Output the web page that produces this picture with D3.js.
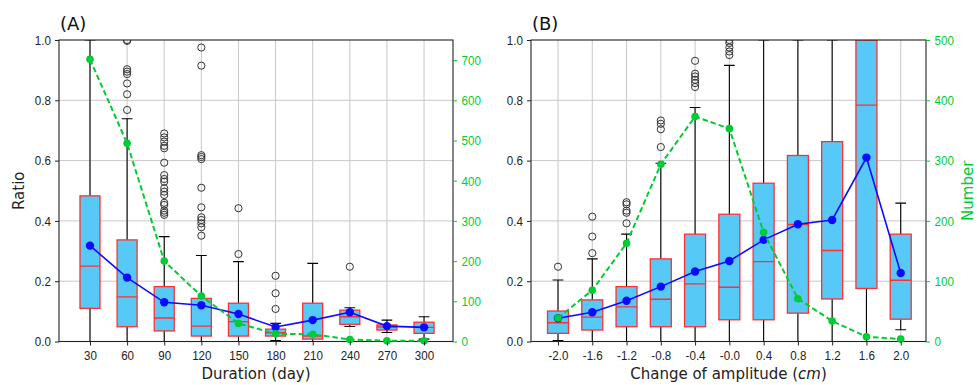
<!DOCTYPE html>
<html>
<head>
<meta charset="utf-8">
<script src="https://cdn.jsdelivr.net/npm/d3@7"></script>
<style>
  body { margin: 0; background: #fff; }
  svg { display: block; font-family: "DejaVu Sans", sans-serif; }
</style>
</head>
<body>
<div id="chart"></div>
<script>
// ---- panel A : duration ----
const durLabels = ['30', '60', '90', '120', '150', '180', '210', '240', '270', '300'];
const durQ1 = [0.11, 0.049, 0.035, 0.018, 0.018, 0.018, 0.008, 0.057, 0.038, 0.027];
const durMed = [0.25, 0.148, 0.078, 0.051, 0.066, 0.029, 0.018, 0.082, 0.048, 0.047];
const durQ3 = [0.483, 0.337, 0.182, 0.143, 0.127, 0.041, 0.127, 0.104, 0.055, 0.064];
const durLo = [0, 0, 0, 0, 0, 0.003, 0, 0.05, 0.03, 0.008];
const durHi = [1.0, 0.739, 0.348, 0.285, 0.265, 0.06, 0.259, 0.112, 0.071, 0.082];
const durMean = [0.318, 0.212, 0.13, 0.12, 0.091, 0.048, 0.071, 0.097, 0.051, 0.047];
const durCount = [702, 493, 200, 113, 45, 19, 18, 5, 2, 2];
const durOutliers = [
  [],
  [1.0, 0.997, 0.903, 0.895, 0.887, 0.856, 0.82, 0.768],
  [0.69, 0.677, 0.663, 0.649, 0.641, 0.593, 0.552, 0.539, 0.53, 0.508, 0.497, 0.486, 0.46, 0.453, 0.434, 0.427, 0.42],
  [0.975, 0.915, 0.618, 0.612, 0.605, 0.51, 0.445, 0.412, 0.403, 0.392, 0.379, 0.351],
  [0.442, 0.29],
  [0.218, 0.16, 0.108],
  [],
  [0.248],
  [],
  []
];

// ---- panel B : change of amplitude ----
const ampLabels = ['-2.0', '-1.6', '-1.2', '-0.8', '-0.4', '-0.0', '0.4', '0.8', '1.2', '1.6', '2.0'];
const ampQ1 = [0.027, 0.038, 0.049, 0.049, 0.049, 0.072, 0.072, 0.094, 0.141, 0.176, 0.074];
const ampMed = [0.062, 0.081, 0.115, 0.14, 0.191, 0.18, 0.265, 0.388, 0.302, 0.784, 0.203];
const ampQ3 = [0.101, 0.138, 0.182, 0.274, 0.356, 0.422, 0.525, 0.617, 0.663, 1.0, 0.356];
const ampLo = [0.003, 0, 0, 0, 0, 0, 0, 0, 0, 0, 0.039];
const ampHi = [0.204, 0.274, 0.356, 0.591, 0.776, 0.916, 1.0, 1.0, 1.0, 1.0, 0.459];
const ampMean = [0.077, 0.097, 0.135, 0.182, 0.232, 0.267, 0.337, 0.389, 0.403, 0.61, 0.227];
const ampCount = [39, 85, 163, 294, 373, 353, 181, 71, 34, 8, 4];
const ampOutliers = [
  [0.248],
  [0.414, 0.348, 0.293],
  [0.462, 0.455, 0.434, 0.427, 0.392],
  [0.733, 0.722, 0.704, 0.645],
  [0.931, 0.888, 0.879, 0.868, 0.857, 0.844],
  [1.0, 0.99, 0.975, 0.962, 0.95],
  [], [], [], [], []
];

const ratioTicks = [0, 0.2, 0.4, 0.6, 0.8, 1.0];
const durCountTicks = [0, 100, 200, 300, 400, 500, 600, 700];
const ampCountTicks = [0, 100, 200, 300, 400, 500];

const W = 977, H = 385;
const BOX_FILL = '#56c9f6', BOX_EDGE = '#ff3030', MEAN_C = '#0a0aff', GREEN = '#00cc33';
const TICK_FS = 13.5, SQUEEZE = 0.86;

const svg = d3.select('#chart').append('svg')
  .attr('width', W)
  .attr('height', H);

function drawPanel(opt) {
  const left = opt.left, right = opt.right, top = 40, bottom = 341.5;
  const n = opt.labels.length;
  const x = d3.scaleLinear().domain(opt.xDomain).range([left, right]);
  const y = d3.scaleLinear().domain([0, 1]).range([bottom, top]);
  const y2 = d3.scaleLinear().domain([0, opt.countMax]).range([bottom, top]);
  const idx = d3.range(n);

  const g = svg.append('g');
  const clipId = 'clip_' + opt.name;
  g.append('clipPath').attr('id', clipId)
    .append('rect')
    .attr('x', left).attr('y', top)
    .attr('width', right - left).attr('height', bottom - top);

  // grid
  const grid = g.append('g').attr('stroke', '#c9c9c9').attr('stroke-width', 1);
  grid.selectAll('.vg').data(idx).enter().append('line')
    .attr('x1', d => x(d)).attr('x2', d => x(d))
    .attr('y1', top).attr('y2', bottom);
  grid.selectAll('.hg').data(ratioTicks.slice(1, -1)).enter().append('line')
    .attr('x1', left).attr('x2', right)
    .attr('y1', d => y(d)).attr('y2', d => y(d));

  const plot = g.append('g').attr('clip-path', `url(#${clipId})`);

  // boxes
  const bw = opt.boxWidth, cw = 10.7;
  const boxes = plot.selectAll('.box').data(idx).enter().append('g').attr('class', 'box');
  boxes.append('line')
    .attr('x1', d => x(d)).attr('x2', d => x(d))
    .attr('y1', d => y(opt.q3[d])).attr('y2', d => y(opt.hi[d]))
    .attr('stroke', '#000').attr('stroke-width', 1.1);
  boxes.append('line')
    .attr('x1', d => x(d)).attr('x2', d => x(d))
    .attr('y1', d => y(opt.q1[d])).attr('y2', d => y(opt.lo[d]))
    .attr('stroke', '#000').attr('stroke-width', 1.1);
  boxes.append('line')
    .attr('x1', d => x(d) - cw / 2).attr('x2', d => x(d) + cw / 2)
    .attr('y1', d => y(opt.hi[d])).attr('y2', d => y(opt.hi[d]))
    .attr('stroke', '#000').attr('stroke-width', 1.1);
  boxes.append('line')
    .attr('x1', d => x(d) - cw / 2).attr('x2', d => x(d) + cw / 2)
    .attr('y1', d => y(opt.lo[d])).attr('y2', d => y(opt.lo[d]))
    .attr('stroke', '#000').attr('stroke-width', 1.1);
  boxes.append('rect')
    .attr('x', d => x(d) - bw / 2).attr('width', bw)
    .attr('y', d => y(opt.q3[d]))
    .attr('height', d => y(opt.q1[d]) - y(opt.q3[d]))
    .attr('fill', BOX_FILL).attr('stroke', BOX_EDGE).attr('stroke-width', 1.3);
  boxes.append('line')
    .attr('x1', d => x(d) - bw / 2).attr('x2', d => x(d) + bw / 2)
    .attr('y1', d => y(opt.med[d])).attr('y2', d => y(opt.med[d]))
    .attr('stroke', BOX_EDGE).attr('stroke-width', 1.4);

  // outliers
  const fl = [];
  opt.outliers.forEach((arr, i) => arr.forEach(v => fl.push({ i, v })));
  plot.selectAll('.flier').data(fl).enter().append('circle')
    .attr('cx', d => x(d.i)).attr('cy', d => y(d.v)).attr('r', 3.6)
    .attr('fill', 'none').attr('stroke', '#333').attr('stroke-width', 1);

  // mean line
  const meanLine = d3.line().x(d => x(d)).y(d => y(opt.mean[d]));
  plot.append('path').datum(idx)
    .attr('d', meanLine).attr('fill', 'none')
    .attr('stroke', MEAN_C).attr('stroke-width', 1.6);
  plot.selectAll('.mdot').data(idx).enter().append('circle')
    .attr('cx', d => x(d)).attr('cy', d => y(opt.mean[d])).attr('r', 4.2)
    .attr('fill', MEAN_C);

  // spines
  g.append('rect')
    .attr('x', left).attr('y', top)
    .attr('width', right - left).attr('height', bottom - top)
    .attr('fill', 'none').attr('stroke', '#222').attr('stroke-width', 1.1);

  // count line (twin axis)
  const countLine = d3.line().x(d => x(d)).y(d => y2(opt.count[d]));
  g.append('path').datum(idx)
    .attr('d', countLine).attr('fill', 'none')
    .attr('stroke', GREEN).attr('stroke-width', 2)
    .attr('stroke-dasharray', '5.5,3');
  g.selectAll('.cdot').data(idx).enter().append('circle')
    .attr('cx', d => x(d)).attr('cy', d => y2(opt.count[d])).attr('r', 3.8)
    .attr('fill', GREEN);

  // axes
  const xAxis = d3.axisBottom(x).tickValues(idx)
    .tickFormat(d => opt.labels[d]).tickSize(4).tickPadding(5);
  const ax = g.append('g').attr('transform', `translate(0,${bottom})`).call(xAxis);
  ax.select('.domain').remove();
  ax.selectAll('line').attr('stroke', '#222');
  ax.selectAll('text').attr('fill', '#222').style('font-size', TICK_FS + 'px')
    .attr('transform', `scale(${SQUEEZE},1)`);

  const yAxis = d3.axisLeft(y).tickValues(ratioTicks)
    .tickFormat(d3.format('.1f')).tickSize(4).tickPadding(4);
  const ay = g.append('g').attr('transform', `translate(${left},0)`).call(yAxis);
  ay.select('.domain').remove();
  ay.selectAll('line').attr('stroke', '#222');
  ay.selectAll('text').attr('fill', '#222').style('font-size', TICK_FS + 'px')
    .attr('x', -8 / SQUEEZE).attr('transform', `scale(${SQUEEZE},1)`);

  const y2Axis = d3.axisRight(y2).tickValues(opt.countTicks)
    .tickSize(4).tickPadding(4.5);
  const ay2 = g.append('g').attr('transform', `translate(${right},0)`).call(y2Axis);
  ay2.select('.domain').remove();
  ay2.selectAll('line').attr('stroke', GREEN);
  ay2.selectAll('text').attr('fill', GREEN).style('font-size', TICK_FS + 'px')
    .attr('x', 8.5 / SQUEEZE).attr('transform', `scale(${SQUEEZE},1)`);

  // title
  g.append('text')
    .attr('x', left + 1).attr('y', 30)
    .style('font-size', '18px').attr('fill', '#111')
    .text(opt.title);

  return { g, x, left, right, top, bottom };
}

const pA = drawPanel({
  name: 'A', title: '(A)', left: 59, right: 453, xDomain: [-0.835, 9.78],
  labels: durLabels, q1: durQ1, med: durMed, q3: durQ3, lo: durLo, hi: durHi,
  mean: durMean, count: durCount, outliers: durOutliers,
  countMax: 750, countTicks: durCountTicks, boxWidth: 20
});

const pB = drawPanel({
  name: 'B', title: '(B)', left: 531, right: 926, xDomain: [-0.788, 10.738],
  labels: ampLabels, q1: ampQ1, med: ampMed, q3: ampQ3, lo: ampLo, hi: ampHi,
  mean: ampMean, count: ampCount, outliers: ampOutliers,
  countMax: 500, countTicks: ampCountTicks, boxWidth: 21
});

// axis labels
svg.append('text')
  .attr('x', (pA.left + pA.right) / 2).attr('y', 378.5)
  .attr('text-anchor', 'middle').style('font-size', '15px').attr('fill', '#222')
  .text('Duration (day)');

const xb = svg.append('text')
  .attr('x', (pB.left + pB.right) / 2).attr('y', 378.5)
  .attr('text-anchor', 'middle').style('font-size', '15px').attr('fill', '#222');
xb.append('tspan').text('Change of amplitude (');
xb.append('tspan').style('font-style', 'italic').text('cm');
xb.append('tspan').text(')');

svg.append('text')
  .attr('transform', `translate(23.5,${(pA.top + pA.bottom) / 2}) rotate(-90)`)
  .attr('text-anchor', 'middle').style('font-size', '15px').attr('fill', '#222')
  .text('Ratio');

svg.append('text')
  .attr('transform', `translate(973,${(pB.top + pB.bottom) / 2}) rotate(-90)`)
  .attr('text-anchor', 'middle').style('font-size', '15px').attr('fill', GREEN)
  .text('Number');
</script>
</body>
</html>
